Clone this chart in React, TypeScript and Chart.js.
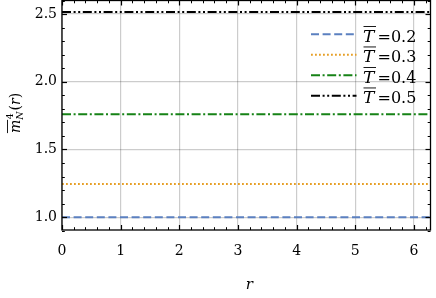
import React, { useEffect, useRef } from 'react';
import { Chart, registerables } from 'chart.js';
Chart.register(...registerables);

// ---- data ----
const rValues = [0, 6.2832];
const temperatureLabels = ['0.2', '0.3', '0.4', '0.5'];
const seriesT02 = [1.0, 1.0];
const seriesT03 = [1.244, 1.244];
const seriesT04 = [1.76, 1.76];
const seriesT05 = [2.515, 2.515];
const xTicks = [0, 1, 2, 3, 4, 5, 6];
const yTicks = [1.0, 1.5, 2.0, 2.5];
const yRange = [0.905, 2.6];

const colors = ['#5b80c0', '#e69f26', '#168216', '#000000'];
const dashes = [
  [8, 3.6],
  [1.8, 2.2],
  [9, 2.6, 2, 2.6],
  [9, 2.6, 2, 2.6, 2, 2.6],
];
const allSeries = [seriesT02, seriesT03, seriesT04, seriesT05];

const FONT = '"DejaVu Serif", serif';

const decorPlugin = {
  id: 'decor',
  afterDraw(chart: any) {
    const ctx = chart.ctx as CanvasRenderingContext2D;
    const { left, right, top, bottom } = chart.chartArea;
    const xs = chart.scales.x;
    const ys = chart.scales.y;
    ctx.save();
    ctx.setLineDash([]);
    ctx.strokeStyle = '#000';
    ctx.lineWidth = 1;
    const tick = (x1: number, y1: number, x2: number, y2: number) => {
      ctx.beginPath();
      ctx.moveTo(x1, y1);
      ctx.lineTo(x2, y2);
      ctx.stroke();
    };
    for (let i = 0; i <= 31; i++) {
      const v = i * 0.2;
      if (v > rValues[1]) break;
      const major = i % 5 === 0;
      const len = major ? 5 : 2.8;
      ctx.lineWidth = major ? 1.2 : 1;
      const px = Math.round(xs.getPixelForValue(v)) + 0.5;
      tick(px, bottom, px, bottom - len);
      tick(px, top, px, top + len);
    }
    for (let i = 9; i <= 26; i++) {
      const v = i * 0.1;
      const major = i % 5 === 0;
      const len = major ? 5 : 2.8;
      ctx.lineWidth = major ? 1.2 : 1;
      const py = Math.round(ys.getPixelForValue(v)) + 0.5;
      tick(left, py, left + len, py);
      tick(right, py, right - len, py);
    }
    ctx.lineWidth = 1.3;
    ctx.strokeRect(left, top, right - left, bottom - top);

    // legend
    const lx0 = 311, lx1 = 356.5, tx = 363;
    for (let i = 0; i < temperatureLabels.length; i++) {
      const y = 34.3 + i * 20.5;
      ctx.strokeStyle = colors[i];
      ctx.lineWidth = 2;
      ctx.lineCap = 'butt';
      ctx.setLineDash(dashes[i]);
      ctx.beginPath();
      ctx.moveTo(lx0, y);
      ctx.lineTo(lx1, y);
      ctx.stroke();
      ctx.setLineDash([]);
      const base = y + 7.2;
      ctx.fillStyle = '#000';
      ctx.textBaseline = 'alphabetic';
      ctx.textAlign = 'left';
      ctx.font = 'italic 17px ' + FONT;
      ctx.fillText('T', tx, base);
      ctx.fillRect(tx + 0.5, base - 15.5, 12.5, 0.9);
      ctx.font = '16px ' + FONT;
      ctx.fillText('=' + temperatureLabels[i], 377.5, base);
    }

    // x title
    ctx.fillStyle = '#000';
    ctx.font = 'italic 15px ' + FONT;
    ctx.textAlign = 'center';
    ctx.textBaseline = 'middle';
    ctx.fillText('r', (left + right) / 2 + 3, 285);

    // y title (rotated)
    ctx.save();
    ctx.translate(19.5, 113);
    ctx.rotate(-Math.PI / 2);
    ctx.textBaseline = 'alphabetic';
    ctx.textAlign = 'left';
    const mFont = 'italic 14px ' + FONT;
    const sFont = '9.5px ' + FONT;
    const sItal = 'italic 9.5px ' + FONT;
    const rFont = '14px ' + FONT;
    ctx.font = mFont;
    const mW = ctx.measureText('m').width;
    ctx.font = sItal;
    const nW = ctx.measureText('N').width;
    ctx.font = rFont;
    const pW = ctx.measureText('(').width;
    ctx.font = mFont;
    const rW = ctx.measureText('r').width;
    const total = mW + nW + 1 + pW * 2 + rW;
    let x = -total / 2;
    ctx.font = mFont;
    ctx.fillText('m', x, 0);
    ctx.fillRect(x, -12.5, mW, 0.9);
    x += mW;
    ctx.font = sFont;
    ctx.fillText('4', x + 0.5, -7);
    ctx.font = sItal;
    ctx.fillText('N', x, 3);
    x += nW + 1;
    ctx.font = rFont;
    ctx.fillText('(', x, 0);
    x += pW;
    ctx.font = mFont;
    ctx.fillText('r', x, 0);
    x += rW;
    ctx.font = rFont;
    ctx.fillText(')', x, 0);
    ctx.restore();

    ctx.restore();
  },
};

export default function App() {
  const ref = useRef<HTMLCanvasElement>(null);
  useEffect(() => {
    document.body.style.margin = '0';
    const canvas = ref.current!;
    const chart = new Chart(canvas, {
      type: 'line',
      data: {
        datasets: allSeries.map((s, i) => ({
          label: temperatureLabels[i],
          data: s.map((v, j) => ({ x: rValues[j], y: v })),
          borderColor: colors[i],
          borderWidth: 2,
          borderDash: dashes[i],
          borderCapStyle: 'butt' as const,
          pointRadius: 0,
          fill: false,
          tension: 0,
        })),
      },
      options: {
        responsive: false,
        animation: false,
        devicePixelRatio: 1,
        layout: { padding: { left: 0, right: 5.5, top: 0.5, bottom: 0 } },
        plugins: { legend: { display: false }, tooltip: { enabled: false } },
        scales: {
          x: {
            type: 'linear',
            min: rValues[0],
            max: rValues[1],
            afterBuildTicks: (s: any) => {
              s.ticks = xTicks.map((v) => ({ value: v }));
            },
            afterFit: (s: any) => {
              s.height = 68;
              s.paddingLeft = 0;
              s.paddingRight = 0;
            },
            ticks: {
              font: { family: FONT, size: 14 },
              color: '#000',
              padding: 13,
              maxRotation: 0,
              autoSkip: false,
              callback: (v: any) => String(v),
            },
            grid: { color: 'rgba(0,0,0,0.2)', lineWidth: 1.2, drawTicks: false },
            border: { display: false },
          },
          y: {
            type: 'linear',
            min: yRange[0],
            max: yRange[1],
            afterBuildTicks: (s: any) => {
              s.ticks = yTicks.map((v) => ({ value: v }));
            },
            afterFit: (s: any) => {
              s.width = 62;
              s.paddingTop = 0;
              s.paddingBottom = 0;
            },
            ticks: {
              font: { family: FONT, size: 14 },
              color: '#000',
              padding: 5,
              autoSkip: false,
              callback: (v: any) => Number(v).toFixed(1),
            },
            grid: { color: 'rgba(0,0,0,0.2)', lineWidth: 1.2, drawTicks: false },
            border: { display: false },
          },
        },
      },
      plugins: [decorPlugin],
    } as any);
    return () => chart.destroy();
  }, []);
  return (
    <div style={{ width: 436, height: 298 }}>
      <canvas ref={ref} width={436} height={298} style={{ width: '436px', height: '298px', display: 'block' }} />
    </div>
  );
}
